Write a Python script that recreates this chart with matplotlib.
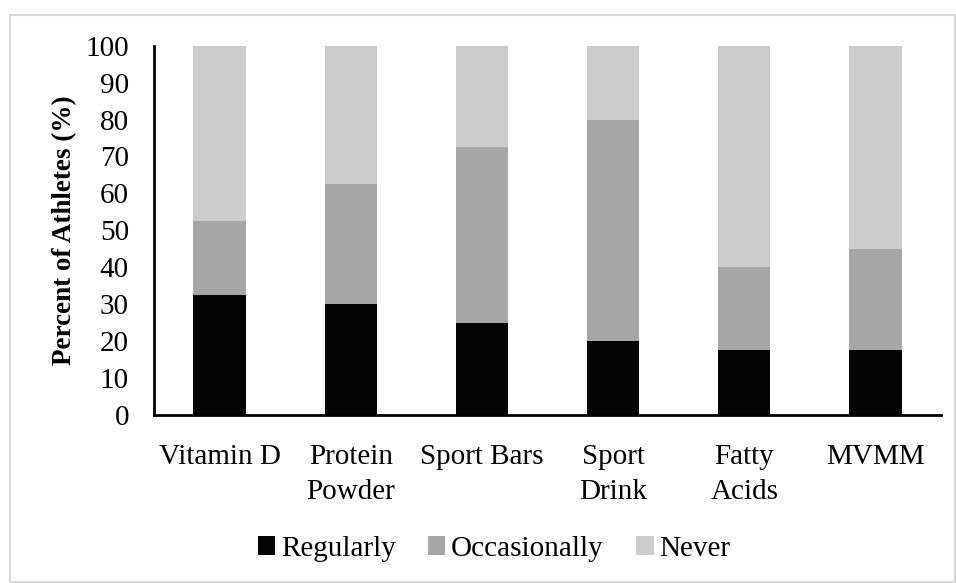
import numpy as np
import matplotlib.pyplot as plt
from matplotlib.patches import Rectangle

# Donnees (pourcentage d'athletes)
categories = ["Vitamin D", "Protein\nPowder", "Sport Bars", "Sport\nDrink", "Fatty\nAcids", "MVMM"]
regularly = [32.5, 30, 25, 20, 17.5, 17.5]
occasionally = [20, 32.5, 47.5, 60, 22.5, 27.5]
never = [47.5, 37.5, 27.5, 20, 60, 55]
yticks = [0, 10, 20, 30, 40, 50, 60, 70, 80, 90, 100]

plt.rcParams['font.family'] = ['Liberation Serif', 'DejaVu Serif']

fig = plt.figure(figsize=(9.56, 5.83), dpi=100)
ax = fig.add_axes([154 / 956, 1 - 415 / 583, (941 - 154) / 956, (415 - 45.7) / 583])

x = np.arange(len(categories))
width = 0.4
b1 = ax.bar(x, regularly, width, color="#050505", label="Regularly")
b2 = ax.bar(x, occasionally, width, bottom=regularly, color="#a6a6a6", label="Occasionally")
bottom2 = np.array(regularly) + np.array(occasionally)
b3 = ax.bar(x, never, width, bottom=bottom2, color="#cccccc", label="Never")

ax.set_xlim(-0.5, len(categories) - 0.5)
ax.set_ylim(0, 100)
ax.set_yticks(yticks)
ax.set_xticks(x)
ax.set_xticklabels(categories, fontsize=21, linespacing=1.45)
ax.tick_params(axis="y", labelsize=21, length=0, pad=18)
ax.tick_params(axis="x", length=0, pad=21)
ax.set_ylabel("Percent of Athletes (%)", fontsize=19.5, fontweight="bold", labelpad=6)

for s in ["top", "right"]:
    ax.spines[s].set_visible(False)
for s in ["left", "bottom"]:
    ax.spines[s].set_linewidth(2)
    ax.spines[s].set_color("black")

fig.legend(handles=[b1, b2, b3], loc="center", bbox_to_anchor=(494 / 956, 1 - 549 / 583),
           ncol=3, frameon=False, fontsize=21, handlelength=0.6, handleheight=0.6,
           handletextpad=0.2, columnspacing=1.1)

# Cadre gris autour de la figure
fig.patches.append(Rectangle((10 / 956, 0.002), 945 / 956, 1 - 15 / 583 - 0.002,
                             transform=fig.transFigure, fill=False,
                             edgecolor="#d9d9d9", linewidth=1.5))

plt.savefig("out.png", dpi=100)
